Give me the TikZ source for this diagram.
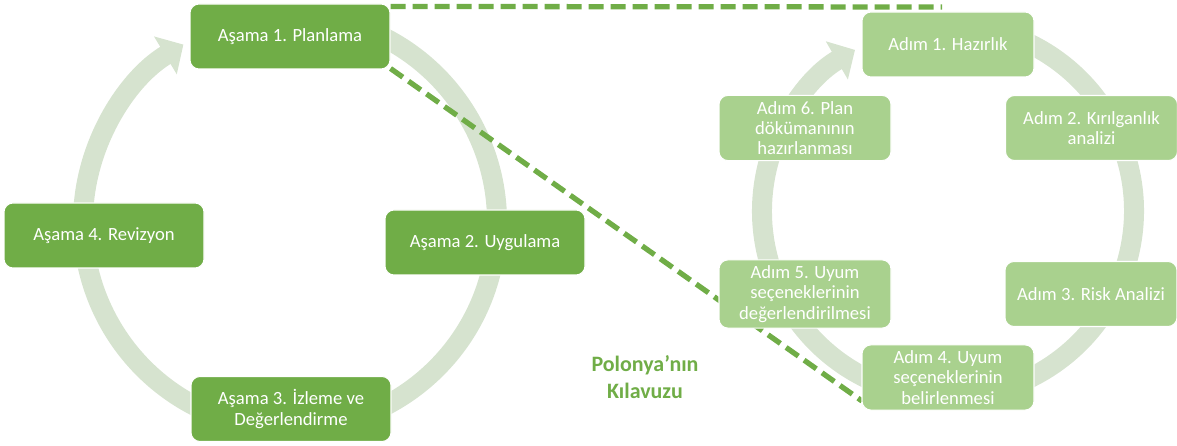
\documentclass[tikz,border=0pt]{standalone}
\usepackage{fontspec}
\setmainfont{Carlito}
\usetikzlibrary{arrows.meta,positioning,calc}
\definecolor{stagegreen}{HTML}{70AD47}
\definecolor{stepgreen}{HTML}{A9D18E}
\definecolor{ringgreen}{HTML}{D6E3CF}

\begin{document}
\begin{tikzpicture}[
  stage/.style={draw=white,line width=0.6pt,fill=stagegreen,rounded corners=0.18cm,
    minimum width=4cm,minimum height=1.3cm,align=center,text=white,
    font=\fontsize{10.6}{11.5}\selectfont},
  stepbox/.style={stage,fill=stepgreen,minimum width=3.44cm},
  ring/.style={ringgreen,line width=0.4cm,-{Triangle[width=0.86cm,length=0.42cm]}},
  guide/.style={stagegreen,line width=3pt,dash pattern=on 0.3cm off 0.14cm}
]
\useasboundingbox (0,0) rectangle (23.54,8.92);
% the two cycles
\coordinate (leftC) at (5.8,4.48);
\coordinate (rightC) at (18.96,4.70);
\draw[ring] (leftC) ++(80:4.14) arc[start angle=80,end angle=-239,radius=4.14];
\draw[ring] (rightC) ++(80:3.72) arc[start angle=80,end angle=-240,radius=3.72];
% stages
\node[stage] (A1) at (5.80,8.19) {Aşama 1. Planlama};
\node[stage] (A2) at (9.70,4.07) {Aşama 2. Uygulama};
\node[stage] (A3) at (5.82,0.74) {Aşama 3. İzleme ve\\Değerlendirme};
\node[stage] (A4) at (2.08,4.21) {Aşama 4. Revizyon};
% zoom lines to the steps
\coordinate (dashEnd) at (18.84,8.78);
\coordinate (dashLow) at (17.24,0.90);
\draw[guide] ($(A1.north east)+(0,-0.06)$) -- (dashEnd);
\draw[guide] ($(A1.south east)+(0,0.02)$) -- (dashLow);
% steps
\node[stepbox] (S1) at (18.96,8.03) {Adım 1. Hazırlık};
\node[stepbox] (S2) at (21.83,6.36) {Adım 2. Kırılganlık\\analizi};
\node[stepbox] (S3) at (21.82,3.04) {Adım 3. Risk Analizi};
\node[stepbox] (S4) at (18.96,1.37) {Adım 4. Uyum\\seçeneklerinin\\belirlenmesi};
\node[stepbox] (S5) at (16.10,3.04) {Adım 5. Uyum\\seçeneklerinin\\değerlendirilmesi};
\node[stepbox] (S6) at (16.10,6.36) {Adım 6. Plan\\dökümanının\\hazırlanması};
\node[font=\bfseries\fontsize{12.5}{15}\selectfont,text=stagegreen,align=center] (guideTitle)
  at (12.90,1.38) {Polonya’nın\\Kılavuzu};
\end{tikzpicture}
\end{document}
